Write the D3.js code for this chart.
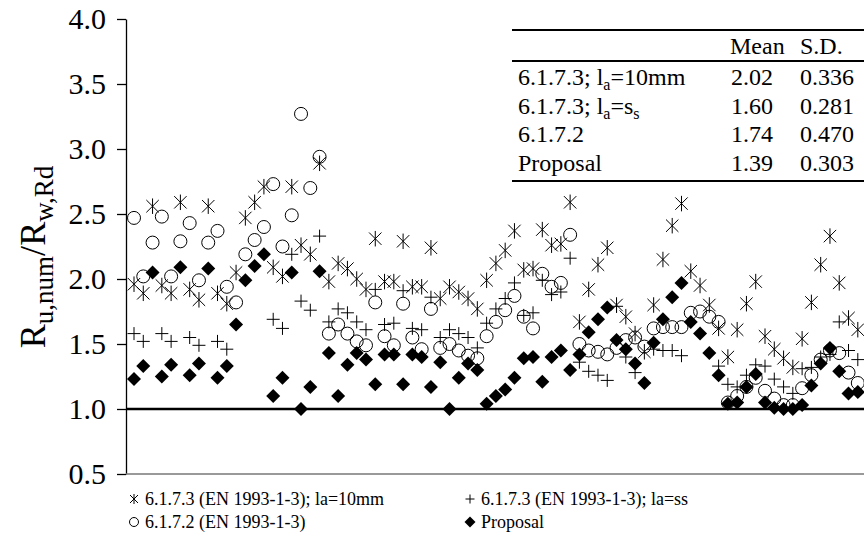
<!DOCTYPE html>
<html>
<head>
<meta charset="utf-8">
<script src="https://cdn.jsdelivr.net/npm/d3@7"></script>
<style>
  body { margin: 0; background: #fff; }
  text { font-family: "Liberation Serif", "Times New Roman", serif; fill: #000; }
</style>
</head>
<body>
<div id="chart"></div>
<script>
// values, one entry per specimen (null = not visible)
var la10 = [1.96,1.89,2.56,1.95,1.89,2.59,1.92,1.84,2.56,1.89,1.81,2.05,2.47,2.59,2.71,2.09,2.02,2.71,2.26,2.19,
  2.89,1.98,2.12,2.08,2.00,1.92,2.31,1.98,1.98,2.29,1.94,1.94,2.24,1.85,1.94,1.90,1.85,1.77,1.99,2.12,
  2.22,2.37,2.07,2.08,2.38,2.26,2.27,2.59,1.67,1.92,2.11,2.24,1.80,1.71,1.58,1.44,1.80,2.15,2.41,2.58,
  2.06,1.95,1.80,1.62,1.40,1.61,1.81,1.98,1.56,1.46,1.39,1.32,1.54,1.82,2.11,2.33,1.97,1.70,1.61];
var laSs = [1.58,1.52,null,1.58,1.52,null,1.55,1.49,null,1.52,1.46,null,null,null,null,1.69,1.62,2.19,1.83,1.76,
  2.33,1.67,1.77,1.74,1.67,1.61,1.92,1.65,1.66,1.91,1.62,1.61,1.86,1.55,1.61,1.58,1.55,1.47,1.66,1.77,
  1.85,1.97,1.72,1.74,1.99,1.88,1.90,2.16,1.36,1.29,1.26,1.22,1.79,1.40,1.28,null,1.46,1.45,1.45,1.41,
  null,null,null,1.33,1.19,1.17,1.26,1.34,1.33,1.23,1.17,1.12,1.31,1.32,1.40,1.42,1.67,1.45,1.38];
var c6172 = [2.47,2.02,2.28,2.48,2.02,2.29,2.43,1.99,2.28,2.37,1.94,1.82,2.19,2.30,2.40,2.73,2.25,2.49,3.27,2.70,
  2.94,1.58,1.65,1.58,1.52,1.49,1.82,1.56,1.49,1.81,1.55,1.46,1.77,1.47,1.50,1.45,1.41,1.39,1.56,1.67,
  1.76,1.87,1.71,1.62,2.04,1.94,1.97,2.34,1.50,1.45,1.44,1.42,1.47,1.53,1.55,1.48,1.62,1.63,1.63,1.63,
  1.74,1.75,1.71,1.67,1.05,1.10,1.17,1.24,1.14,1.08,1.03,1.03,1.16,1.26,1.38,1.45,1.43,1.28,1.20];
var proposal = [1.23,1.33,2.05,1.25,1.34,2.09,1.26,1.35,2.08,1.24,1.33,1.65,1.99,2.10,2.19,1.10,1.24,2.05,1.00,1.17,
  2.06,1.43,1.10,1.34,1.43,1.38,1.19,1.42,1.42,1.19,1.42,1.40,1.17,1.36,1.00,1.24,1.35,1.30,1.04,1.10,
  1.15,1.24,1.39,1.40,1.21,1.40,1.45,1.30,1.42,1.59,1.69,1.78,1.53,1.46,1.35,1.20,1.51,1.69,1.86,1.97,
  1.67,1.58,1.43,1.26,1.04,1.05,1.17,1.27,1.05,1.01,1.00,1.00,1.03,1.18,1.35,1.47,1.29,1.12,1.13];

var yTicks = [0.5, 1.0, 1.5, 2.0, 2.5, 3.0, 3.5, 4.0];

// inset table
var tableRows = ["6.1.7.3; l|a|=10mm", "6.1.7.3; l|a|=s|s", "6.1.7.2", "Proposal"];
var tableMean = ["2.02", "1.60", "1.74", "1.39"];
var tableSD = ["0.336", "0.281", "0.470", "0.303"];

var legendLabels = ["6.1.7.3 (EN 1993-1-3); la=10mm", "6.1.7.3 (EN 1993-1-3); la=ss",
                    "6.1.7.2 (EN 1993-1-3)", "Proposal"];

var svgWidth = 864, svgHeight = 542;
var margin = {top: 19, right: 0, bottom: 68, left: 126};

var svg = d3.select("#chart").append("svg")
  .attr("width", svgWidth).attr("height", svgHeight);

var x = d3.scaleLinear().domain([0, 78]).range([134, 857.8]);
var y = d3.scaleLinear().domain([0.5, 4.0]).range([svgHeight - margin.bottom, margin.top]);

// marker paths
function asterisk(s) {
  return "M" + (-s) + "," + (-s) + "L" + s + "," + s + "M" + (-s) + "," + s + "L" + s + "," + (-s) +
         "M0," + (-s * 1.25) + "L0," + (s * 1.25);
}
function plus(s) {
  return "M" + (-s) + ",0L" + s + ",0M0," + (-s) + "L0," + s;
}
function diamond(s) {
  return "M0," + (-s) + "L" + s + ",0L0," + s + "L" + (-s) + ",0Z";
}

// y axis
var yAxis = d3.axisLeft(y).tickValues(yTicks).tickFormat(d3.format(".1f")).tickSize(9).tickSizeOuter(0);
var gy = svg.append("g").attr("transform", "translate(" + margin.left + ",0)").call(yAxis);
gy.select(".domain").attr("stroke", "#000").attr("stroke-width", 1.3);
gy.selectAll(".tick line").attr("stroke", "#000").attr("stroke-width", 1.3);
gy.selectAll(".tick text").attr("x", -20).style("font-size", "30px")
  .style("font-family", "'Liberation Serif', 'Times New Roman', serif").attr("fill", "#000");

// bottom axis line
svg.append("line")
  .attr("x1", margin.left).attr("x2", svgWidth)
  .attr("y1", y(0.5)).attr("y2", y(0.5))
  .attr("stroke", "#777").attr("stroke-width", 1.6);

// reference line at 1.0
svg.append("line")
  .attr("x1", margin.left).attr("x2", svgWidth)
  .attr("y1", y(1.0)).attr("y2", y(1.0))
  .attr("stroke", "#000").attr("stroke-width", 2.6);

function pts(arr) {
  return arr.map(function(v, i) { return {i: i, v: v}; }).filter(function(d) { return d.v !== null; });
}

var plot = svg.append("g");

plot.selectAll(".ast").data(pts(la10)).enter().append("path")
  .attr("d", asterisk(6.2))
  .attr("transform", function(d) { return "translate(" + x(d.i) + "," + y(d.v) + ")"; })
  .attr("fill", "none").attr("stroke", "#000").attr("stroke-width", 1);

plot.selectAll(".pls").data(pts(laSs)).enter().append("path")
  .attr("d", plus(6.5))
  .attr("transform", function(d) { return "translate(" + x(d.i) + "," + y(d.v) + ")"; })
  .attr("fill", "none").attr("stroke", "#000").attr("stroke-width", 1);

plot.selectAll(".cir").data(pts(c6172)).enter().append("circle")
  .attr("cx", function(d) { return x(d.i); })
  .attr("cy", function(d) { return y(d.v); })
  .attr("r", 6.5)
  .attr("fill", "none").attr("stroke", "#000").attr("stroke-width", 1);

plot.selectAll(".dia").data(pts(proposal)).enter().append("path")
  .attr("d", diamond(7))
  .attr("transform", function(d) { return "translate(" + x(d.i) + "," + y(d.v) + ")"; })
  .attr("fill", "#000");

// y axis title
var title = svg.append("text")
  .attr("transform", "translate(45,257) rotate(-90)")
  .attr("text-anchor", "middle")
  .style("font-size", "36px");
title.append("tspan").text("R");
title.append("tspan").attr("dy", 8).style("font-size", "27px").text("u,num");
title.append("tspan").attr("dy", -8).text("/R");
title.append("tspan").attr("dy", 8).style("font-size", "27px").text("w,Rd");

// inset table
var tbl = svg.append("g").style("font-size", "24px");
[30, 61, 181].forEach(function(ly) {
  tbl.append("line").attr("x1", 512).attr("x2", svgWidth).attr("y1", ly).attr("y2", ly)
    .attr("stroke", "#000").attr("stroke-width", 2);
});
tbl.append("text").attr("x", 730).attr("y", 54).text("Mean");
tbl.append("text").attr("x", 800).attr("y", 54).text("S.D.");
tableRows.forEach(function(label, k) {
  var by = 85 + k * 28.5;
  var t = tbl.append("text").attr("x", 518).attr("y", by);
  label.split("|").forEach(function(part, j) {
    var sp = t.append("tspan").text(part);
    if (j % 2 === 1) sp.attr("dy", 5).style("font-size", "16px");
    else if (j > 0) sp.attr("dy", -5);
  });
  tbl.append("text").attr("x", 731).attr("y", by).text(tableMean[k]);
  tbl.append("text").attr("x", 800).attr("y", by).text(tableSD[k]);
});

// legend
var lg = svg.append("g").style("font-size", "18px");
var legendPos = [[134, 499], [470, 499], [134, 522], [470, 522]];
legendLabels.forEach(function(label, k) {
  var p = legendPos[k];
  var m = lg.append("g").attr("transform", "translate(" + p[0] + "," + p[1] + ")");
  if (k === 0) m.append("path").attr("d", asterisk(4)).attr("stroke", "#000").attr("fill", "none");
  if (k === 1) m.append("path").attr("d", plus(4.5)).attr("stroke", "#000").attr("fill", "none");
  if (k === 2) m.append("circle").attr("r", 4.5).attr("stroke", "#000").attr("fill", "none");
  if (k === 3) m.append("path").attr("d", diamond(5.5)).attr("fill", "#000");
  lg.append("text").attr("x", p[0] + 11).attr("y", p[1] + 6).text(label);
});
</script>
</body>
</html>
